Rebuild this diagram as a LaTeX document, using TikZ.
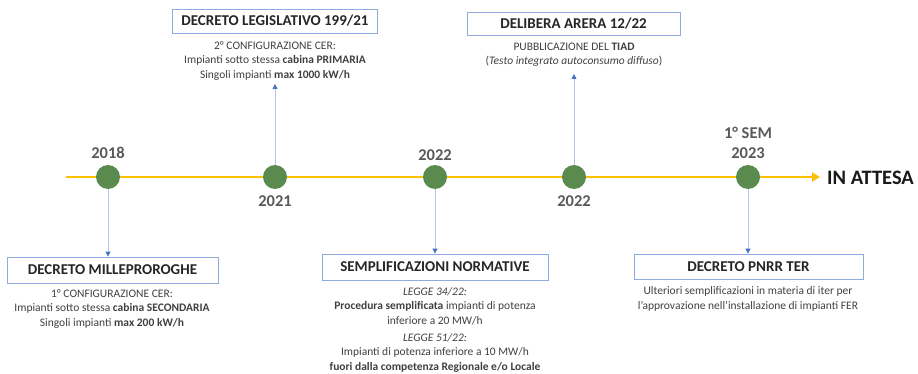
\documentclass[tikz,border=0pt]{standalone}
\usepackage{fontspec}
\setmainfont{Carlito}
\usetikzlibrary{arrows.meta}
\definecolor{tl}{HTML}{FFC000}
\definecolor{dot}{HTML}{5A8A4E}
\definecolor{boxb}{HTML}{8FAADC}
\definecolor{conn}{HTML}{B4C7E7}
\definecolor{tip}{HTML}{4472C4}
\definecolor{txt}{HTML}{404040}
\definecolor{yr}{HTML}{595959}
\tikzset{
  evdot/.style={circle,fill=dot,minimum size=24pt,inner sep=0pt},
  title/.style={draw=boxb,line width=0.8pt,fill=white,font=\fontsize{15}{17}\selectfont\bfseries,text=black!85,inner sep=0pt,anchor=center},
  desc/.style={align=center,font=\fontsize{11.5}{14.5}\selectfont,text=txt,inner sep=0pt,anchor=center},
  year/.style={font=\fontsize{16.5}{19}\selectfont\bfseries,text=yr,inner sep=0pt,anchor=center,align=center},
  conn/.style={draw=conn,line width=0.8pt,-{Triangle[length=5pt,width=5pt,color=tip]}}
}
\begin{document}
\begin{tikzpicture}[x=1pt,y=-1pt]
\useasboundingbox (0,0) rectangle (918,374);
% timeline
\coordinate (ts) at (66,177);
\coordinate (te) at (820,177);
\draw[tl,line width=2.5pt,-{Triangle[length=8pt,width=9pt]}] (ts) -- (te);
\node[font=\fontsize{20.5}{23}\selectfont\bfseries,text=black!90,anchor=west,inner sep=0pt] (att) at (827,178) {IN ATTESA};
% dots
\node[evdot] (d1) at (108,177) {};
\node[evdot] (d2) at (275,177) {};
\node[evdot] (d3) at (435,177) {};
\node[evdot] (d4) at (574,177) {};
\node[evdot] (d5) at (748,177) {};
% years
\node[year] (y1) at (108,153) {2018};
\node[year] (y2) at (275,201) {2021};
\node[year] (y3) at (435,155) {2022};
\node[year] (y4) at (574,201) {2022};
\node[year,font=\fontsize{16.5}{20}\selectfont\bfseries] (y5) at (748,143) {1° SEM\\2023};
% top boxes
\node[title,minimum width=205pt,minimum height=24pt] (b2) at (275,21) {DECRETO LEGISLATIVO 199/21};
\node[desc] (t2) at (275,61) {2° CONFIGURAZIONE CER:\\Impianti sotto stessa \textbf{cabina PRIMARIA}\\Singoli impianti \textbf{max 1000 kW/h}};
\node[title,minimum width=213pt,minimum height=23pt] (b4) at (573.5,23.5) {DELIBERA ARERA 12/22};
\node[desc] (t4) at (574,55) {PUBBLICAZIONE DEL \textbf{TIAD}\\(\textit{Testo integrato autoconsumo diffuso})};
% bottom boxes
\node[title,minimum width=211pt,minimum height=26pt] (b1) at (112.5,270) {DECRETO MILLEPROROGHE};
\node[desc] (t1) at (112,309) {1° CONFIGURAZIONE CER:\\Impianti sotto stessa \textbf{cabina SECONDARIA}\\Singoli impianti \textbf{max 200 kW/h}};
\node[title,minimum width=226pt,minimum height=26pt] (b3) at (435,267) {SEMPLIFICAZIONI NORMATIVE};
\node[desc] (t3) at (435,306) {\textit{LEGGE 34/22:}\\\textbf{Procedura semplificata} impianti di potenza\\inferiore a 20 MW/h};
\node[desc] (t3b) at (435,353) {\textit{LEGGE 51/22:}\\Impianti di potenza inferiore a 10 MW/h\\\textbf{fuori dalla competenza Regionale e/o Locale}};
\node[title,minimum width=229pt,minimum height=25pt] (b5) at (748.5,266.5) {DECRETO PNRR TER};
\node[desc] (t5) at (748,299) {Ulteriori semplificazioni in materia di iter per\\l’approvazione nell’installazione di impianti FER};
% connectors
\coordinate (u2) at (275,84);
\coordinate (u4) at (574,74);
\draw[conn] (d2) -- (u2);
\draw[conn] (d4) -- (u4);
\draw[conn] (d1) -- (d1 |- b1.north);
\draw[conn] (d3) -- (d3 |- b3.north);
\draw[conn] (d5) -- (d5 |- b5.north);
\end{tikzpicture}
\end{document}
